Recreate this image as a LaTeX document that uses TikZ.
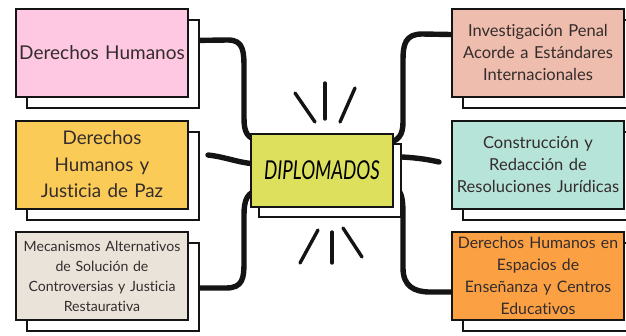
\documentclass[tikz,border=0pt]{standalone}
\usepackage{fontspec}
\setmainfont{Lato}[Ligatures=NoCommon]
\usetikzlibrary{shadows,backgrounds}
\definecolor{pinkbox}{HTML}{FEC8E2}
\definecolor{yellowbox}{HTML}{FBCB58}
\definecolor{beigebox}{HTML}{EAE3DA}
\definecolor{salmonbox}{HTML}{EEBDAD}
\definecolor{tealbox}{HTML}{B6E4D8}
\definecolor{orangebox}{HTML}{FBA043}
\definecolor{centerbox}{HTML}{DCE05C}
\definecolor{txt}{HTML}{342C2C}
\definecolor{ink}{HTML}{141414}
\begin{document}
\begin{tikzpicture}[x=1pt,y=-1pt,
  card/.style={draw=ink, line width=2pt, minimum width=172pt, minimum height=88pt,
    align=center, text width=168pt, text=txt, inner sep=0pt,
    font=\fontsize{16.5}{22}\selectfont,
    copy shadow={shadow xshift=11pt, shadow yshift=-11pt, fill=white, draw=ink, line width=2pt}},
  hub/.style={draw=ink, line width=2pt, minimum width=142pt, minimum height=73pt,
    fill=centerbox, inner sep=0pt,
    copy shadow={shadow xshift=8pt, shadow yshift=-10pt, fill=white, draw=ink, line width=2pt}},
  link/.style={draw=ink, line width=5.4pt, line cap=round, line join=round},
  ray/.style={draw=ink, line width=3.4pt, line cap=round}]
\useasboundingbox (0,0) rectangle (626,335);

% left cards
\node[card, fill=pinkbox, font=\fontsize{19}{24}\selectfont] (p1) at (102,52.5) {Derechos Humanos};
\node[card, fill=yellowbox, font=\fontsize{18.8}{26.5}\selectfont] (p2) at (102,164.5) {Derechos\\Humanos y\\Justicia de Paz};
\node[card, fill=beigebox, font=\fontsize{14.1}{20}\selectfont] (p3) at (102,276) {Mecanismos Alternativos\\de Solución de\\Controversias y Justicia\\Restaurativa};

% right cards
\node[card, fill=salmonbox] (q1) at (538,52.5) {Investigación Penal\\Acorde a Estándares\\Internacionales};
\node[card, fill=tealbox] (q2) at (538,164.5) {Construcción y\\Redacción de\\Resoluciones Jurídicas};
\node[card, fill=orangebox, font=\fontsize{15.8}{22}\selectfont] (q3) at (538,276) {Derechos Humanos en\\Espacios de\\Enseñanza y Centros\\Educativos};

% centre
\node[hub] (c) at (322,170.5) {\scalebox{0.72}[1]{\fontsize{26}{26}\selectfont\itshape DIPLOMADOS}};

% free ends of the two short stubs
\coordinate (lmEnd) at (208,155);
\coordinate (rmEnd) at (439,162);

% connectors, under the boxes
\begin{scope}[on background layer]
\path[link] ([yshift=12pt]p1.east) -- (228,40) .. controls (244,40) and (244,52) .. (244,70)
  -- (244,118) .. controls (244,132) and (247,139) .. ([shift={(10pt,30pt)}]c.west);
\path[link] (lmEnd) .. controls (226,157) and (238,163) .. ([shift={(10pt,6pt)}]c.west);
\path[link] ([yshift=-12pt]p3.east) -- (226,288) .. controls (243,288) and (244,278) .. (244,262)
  -- (244,215) .. controls (244,200) and (247,192) .. ([shift={(10pt,-19pt)}]c.west);
\path[link] ([yshift=18pt]q1.west) -- (422,34) .. controls (405,34) and (403,45) .. (403,60)
  -- (403,122) .. controls (403,136) and (398,141) .. ([shift={(-8pt,27pt)}]c.east);
\path[link] ([shift={(-8pt,13pt)}]c.east) -- (402,157) .. controls (420,158) and (430,160) .. (rmEnd);
\path[link] ([shift={(-8pt,-18pt)}]c.east) -- (396,188) .. controls (402,192) and (403,200) .. (403,215)
  -- (403,268) .. controls (403,286) and (414,292) .. (430,292) -- ([yshift=-16pt]q3.west);
\end{scope}

% rays
\path[ray] (295,93) -- (315,122);
\path[ray] (325,83) -- (325,119);
\path[ray] (355,88) -- (340,122);
\path[ray] (318,230) -- (300,263);
\path[ray] (332,232) -- (332,263);
\path[ray] (343,228) -- (362,257);
\end{tikzpicture}
\end{document}
